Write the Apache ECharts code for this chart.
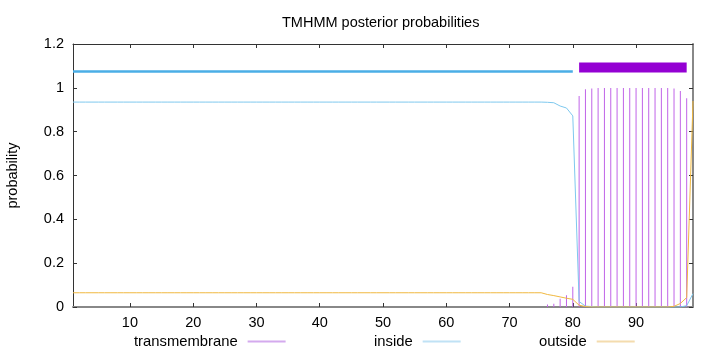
<!DOCTYPE html>
<html><head><meta charset="utf-8">
<script src="https://cdn.jsdelivr.net/npm/echarts@6/dist/echarts.min.js"></script>
<style>html,body{margin:0;padding:0;background:#fff}#c{width:720px;height:352px}</style>
</head><body><div id="c"></div>
<script>
// x tick labels (residue positions)
const xTicks = [10, 20, 30, 40, 50, 60, 70, 80, 90];
// posterior probabilities per residue 1..99
const insideProb = [
  0.935,0.935,0.935,0.935,0.935,0.935,0.935,0.935,0.935,0.935,0.935,0.935,0.935,0.935,0.935,
  0.935,0.935,0.935,0.935,0.935,0.935,0.935,0.935,0.935,0.935,0.935,0.935,0.935,0.935,0.935,
  0.935,0.935,0.935,0.935,0.935,0.935,0.935,0.935,0.935,0.935,0.935,0.935,0.935,0.935,0.935,
  0.935,0.935,0.935,0.935,0.935,0.935,0.935,0.935,0.935,0.935,0.935,0.935,0.935,0.935,0.935,
  0.935,0.935,0.935,0.935,0.935,0.935,0.935,0.935,0.935,0.935,0.935,0.935,0.935,0.935,0.935,
  0.934,0.932,0.917,0.908,0.872,0.025,0.004,0.002,0,0,
  0,0,0,0,0,0,0,0,0,0,
  0,0,0.006,0.061
];
const outsideProb = [
  0.065,0.065,0.065,0.065,0.065,0.065,0.065,0.065,0.065,0.065,0.065,0.065,0.065,0.065,0.065,
  0.065,0.065,0.065,0.065,0.065,0.065,0.065,0.065,0.065,0.065,0.065,0.065,0.065,0.065,0.065,
  0.065,0.065,0.065,0.065,0.065,0.065,0.065,0.065,0.065,0.065,0.065,0.065,0.065,0.065,0.065,
  0.065,0.065,0.065,0.065,0.065,0.065,0.065,0.065,0.065,0.065,0.065,0.065,0.065,0.065,0.065,
  0.065,0.065,0.065,0.065,0.065,0.065,0.065,0.065,0.065,0.065,0.065,0.065,0.065,0.065,0.065,
  0.057,0.052,0.046,0.040,0.035,0.008,0.002,0,0,0,
  0,0,0,0,0,0,0,0,0,0,
  0.003,0.016,0.043,0.94
];
const tmProb = [
  0,0,0,0,0,0,0,0,0,0,0,0,0,0,0,
  0,0,0,0,0,0,0,0,0,0,0,0,0,0,0,
  0,0,0,0,0,0,0,0,0,0,0,0,0,0,0,
  0,0,0,0,0,0,0,0,0,0,0,0,0,0,0,
  0,0,0,0,0,0,0,0,0,0,0,0,0,0,0,
  0.011,0.015,0.038,0.054,0.092,0.963,0.994,0.997,0.999,0.999,
  0.999,0.999,0.999,0.999,0.999,0.999,0.999,0.999,0.999,0.999,
  0.997,0.986,0.952,0
];
// predicted topology segments [start, end] and their plot levels
const insideSegment = [1, 80];
const tmSegment = [81, 98];
const insideLevel = 1.074;
const tmLevel = 1.093;

const FONT = '"Liberation Sans", Arial, sans-serif';
const FS = 14.5;
const pts = arr => arr.map((v, i) => [i + 1, v]);

const legendBase = {
  orient: 'horizontal', align: 'right', icon: 'rect', itemWidth: 38, itemHeight: 2,
  padding: 0, top: 334, selectedMode: false,
  textStyle: { fontSize: 14.8, fontFamily: FONT, color: '#000', padding: [0, 5, 0, 0] }
};

const chart = echarts.init(document.getElementById('c'), null, { renderer: 'canvas' });
chart.setOption({
  animation: false,
  backgroundColor: '#fff',
  title: {
    text: 'TMHMM posterior probabilities', left: 282, top: 15, padding: 0,
    textStyle: { fontSize: FS, fontWeight: 'normal', fontFamily: FONT, color: '#000' }
  },
  legend: [
    Object.assign({}, legendBase, { left: 134, data: [{ name: 'transmembrane', itemStyle: { color: '#d4aaee' } }] }),
    Object.assign({}, legendBase, { left: 374, data: [{ name: 'inside', itemStyle: { color: '#c0e2f5' } }] }),
    Object.assign({}, legendBase, { left: 539, data: [{ name: 'outside', itemStyle: { color: '#f4dcae' } }] })
  ],
  grid: { left: 73, right: 27, top: 44, bottom: 45, outerBoundsMode: 'none', containLabel: false },
  xAxis: [
    {
      type: 'value', min: 1, max: 99, position: 'bottom',
      axisLine: { show: true, onZero: false, lineStyle: { color: '#888', width: 2 } },
      axisTick: { show: true, inside: true, length: 4, customValues: xTicks, lineStyle: { color: '#333' } },
      axisLabel: { customValues: xTicks, color: '#000', fontSize: FS, fontFamily: FONT, margin: 8 },
      splitLine: { show: false }
    },
    {
      type: 'value', min: 1, max: 99, position: 'top',
      axisLine: { show: true, onZero: false, lineStyle: { color: '#333', width: 1 } },
      axisTick: { show: true, inside: true, length: 4, customValues: xTicks, lineStyle: { color: '#333' } },
      axisLabel: { show: false },
      splitLine: { show: false }
    }
  ],
  yAxis: [
    {
      type: 'value', min: 0, max: 1.2, interval: 0.2, position: 'left',
      name: 'probability', nameLocation: 'middle', nameGap: 53, nameRotate: 90,
      nameTextStyle: { fontSize: FS, fontFamily: FONT, color: '#000' },
      axisLine: { show: true, onZero: false, lineStyle: { color: '#333', width: 1 } },
      axisTick: { show: true, inside: true, length: 4, lineStyle: { color: '#333' } },
      axisLabel: { color: '#000', fontSize: FS, fontFamily: FONT, margin: 9 },
      splitLine: { show: false }
    },
    {
      type: 'value', min: 0, max: 1.2, interval: 0.2, position: 'right',
      axisLine: { show: true, onZero: false, lineStyle: { color: '#888', width: 2 } },
      axisTick: { show: true, inside: true, length: 4, lineStyle: { color: '#333' } },
      axisLabel: { show: false },
      splitLine: { show: false }
    }
  ],
  series: [
    {
      name: 'transmembrane', type: 'bar', xAxisIndex: 0, yAxisIndex: 0,
      data: pts(tmProb), barWidth: 1, itemStyle: { color: '#c064e8' }, z: 2
    },
    {
      name: 'inside', type: 'line', data: pts(insideProb), symbol: 'none',
      lineStyle: { color: '#7ec8ee', width: 1 }, itemStyle: { color: '#7ec8ee' }, z: 3
    },
    {
      name: 'outside', type: 'line', data: pts(outsideProb), symbol: 'none',
      lineStyle: { color: '#f0b840', width: 1 }, itemStyle: { color: '#f0b840' }, z: 3
    },
    {
      name: 'insideTopo', type: 'line', symbol: 'none', silent: true,
      data: insideSegment.map(x => [x, insideLevel]),
      lineStyle: { color: '#4aaee6', width: 2.5, cap: 'butt' }, z: 4
    },
    {
      name: 'tmTopo', type: 'line', symbol: 'none', silent: true,
      data: tmSegment.map(x => [x, tmLevel]),
      lineStyle: { color: '#9400d3', width: 10, cap: 'butt' }, z: 4
    }
  ]
});
</script></body></html>
